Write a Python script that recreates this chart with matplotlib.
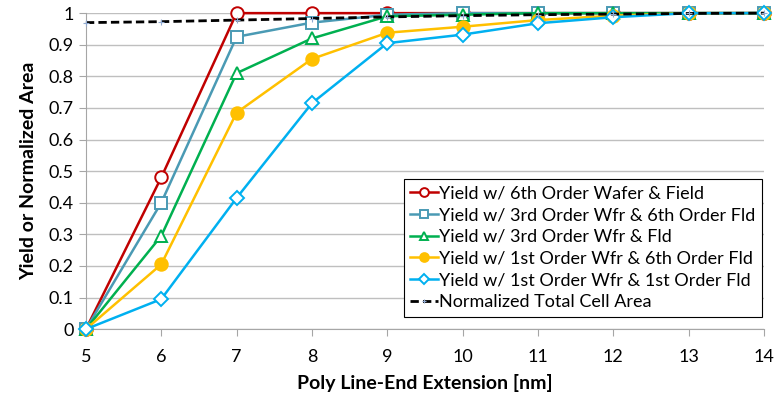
import matplotlib
matplotlib.use("Agg")
import matplotlib.pyplot as plt
from matplotlib.ticker import FuncFormatter

plt.rcParams["font.family"] = ["Lato", "DejaVu Sans"]

ext_nm = [5, 6, 7, 8, 9, 10, 11, 12, 13, 14]

yield_6th_wf = [0.0, 0.48, 1.0, 1.0, 1.0, 1.0, 1.0, 1.0, 1.0, 1.0]
yield_3w_6f = [0.0, 0.40, 0.925, 0.97, 0.995, 1.0, 1.0, 1.0, 1.0, 1.0]
yield_3w_3f = [0.0, 0.295, 0.81, 0.92, 0.99, 0.995, 1.0, 1.0, 1.0, 1.0]
yield_1w_6f = [0.0, 0.205, 0.685, 0.855, 0.938, 0.957, 0.978, 0.992, 1.0, 1.0]
yield_1w_1f = [0.0, 0.095, 0.415, 0.715, 0.905, 0.932, 0.968, 0.987, 1.0, 1.0]
norm_area = [0.97, 0.973, 0.978, 0.983, 0.988, 0.992, 0.995, 0.997, 0.999, 1.0]

SERIES = [
    ("Yield w/ 6th Order Wafer & Field", yield_6th_wf, "#C00000", "o", "none"),
    ("Yield w/ 3rd Order Wfr & 6th Order Fld", yield_3w_6f, "#4A9AB4", "s", "none"),
    ("Yield w/ 3rd Order Wfr & Fld", yield_3w_3f, "#00B050", "^", "none"),
    ("Yield w/ 1st Order Wfr & 6th Order Fld", yield_1w_6f, "#FFC000", "o", "#FFC000"),
    ("Yield w/ 1st Order Wfr & 1st Order Fld", yield_1w_1f, "#00B0F0", "D", "none"),
]

fig = plt.figure(figsize=(7.74, 3.98), dpi=100)
ax = fig.add_axes([0.111, 0.173, 0.876, 0.794])

for lbl, vals, color, mk, fc in SERIES:
    ms = 7 if mk == "D" else 9
    ax.plot(ext_nm, vals, color=color, lw=1.8, marker=mk, ms=ms,
            mfc=fc if fc != "none" else "white", mec=color, mew=1.4,
            label=lbl, zorder=3, clip_on=False)

ax.plot(ext_nm, norm_area, color="black", lw=2.0, ls=(0, (3, 1.5)),
        marker="+", ms=5, mec="#8FA9D0", mew=0.8,
        label="Normalized Total Cell Area", zorder=4, clip_on=False)

ax.set_xlim(5, 14)
ax.set_ylim(0, 1)
ax.set_xticks(ext_nm)
ax.set_yticks([i / 10 for i in range(11)])
ax.yaxis.set_major_formatter(FuncFormatter(lambda v, p: f"{v:g}"))
ax.yaxis.grid(True, color="#BFBFBF", lw=1.0)
ax.set_axisbelow(True)
for s in ("top", "right"):
    ax.spines[s].set_visible(False)
for s in ("left", "bottom"):
    ax.spines[s].set_color("#A6A6A6")
ax.tick_params(axis="y", length=5, color="#A6A6A6", labelsize=13, pad=4)
ax.tick_params(axis="x", length=5, color="#A6A6A6", labelsize=13, pad=9)

ax.set_xlabel("Poly Line-End Extension [nm]", fontsize=14, fontweight="bold", labelpad=7)
ax.set_ylabel("Yield or Normalized Area", fontsize=14, fontweight="bold", labelpad=8)

leg = ax.legend(loc="lower right", bbox_to_anchor=(0.997, 0.04), fontsize=13,
                frameon=True, fancybox=False, edgecolor="black", framealpha=1,
                borderaxespad=0, handlelength=1.5, handletextpad=0.1,
                labelspacing=0.32, borderpad=0.35, markerscale=0.7)
leg.get_frame().set_linewidth(0.8)

fig.savefig("out.png", dpi=100)
